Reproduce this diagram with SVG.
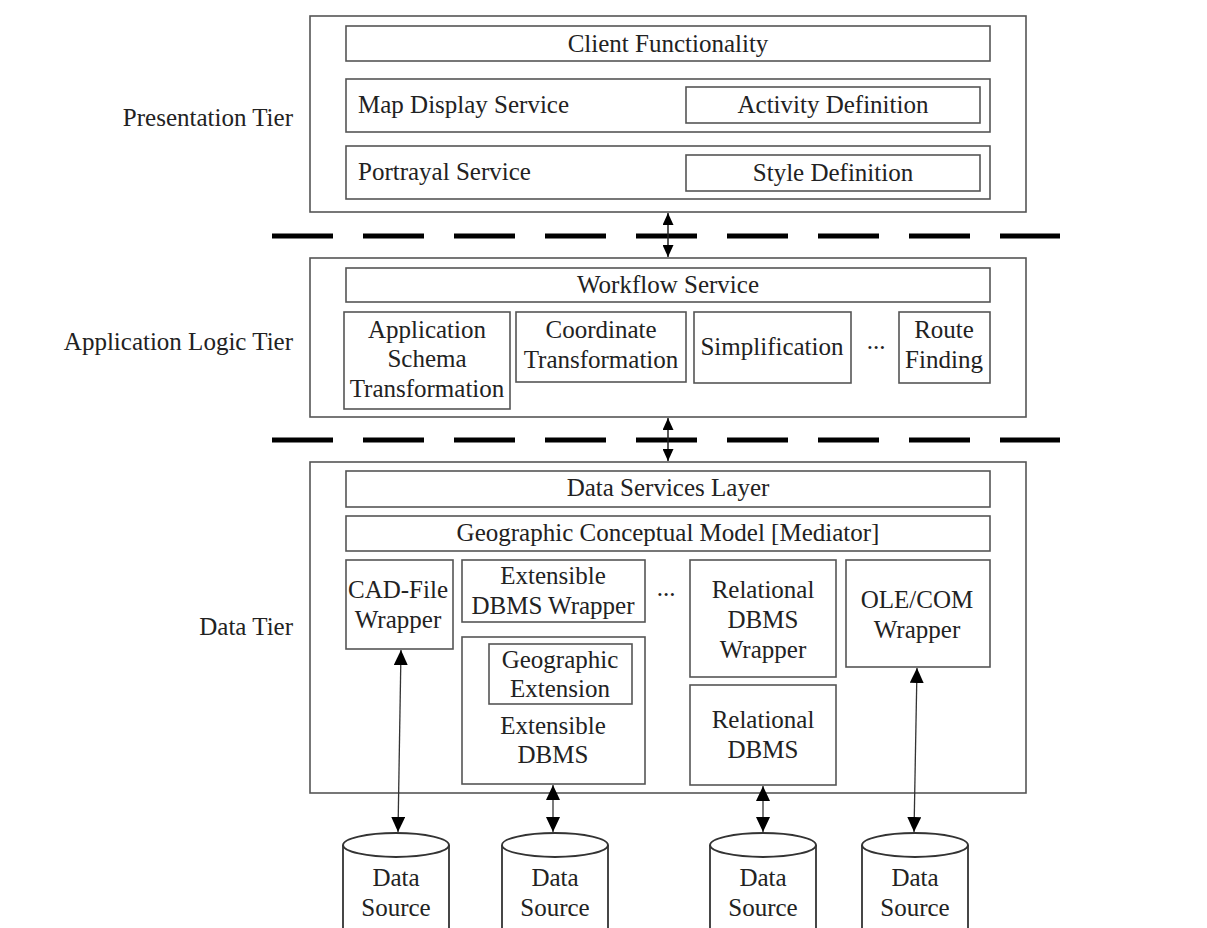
<svg xmlns="http://www.w3.org/2000/svg" width="1207" height="928" viewBox="0 0 1207 928">
<defs>
<style>
.box{fill:#fff;stroke:#555;stroke-width:1.6}
.t{font-family:"Liberation Serif","Times New Roman",serif;font-size:25px;fill:#222;text-anchor:middle}
.tl{font-family:"Liberation Serif","Times New Roman",serif;font-size:25px;fill:#222;text-anchor:start}
.tier{font-family:"Liberation Serif","Times New Roman",serif;font-size:25px;fill:#222;text-anchor:end}
.dash{stroke:#000;stroke-width:5;stroke-dasharray:61 30;fill:none}
.arr{stroke:#333;stroke-width:1.3;fill:none;marker-start:url(#ah);marker-end:url(#ah)}
.arrs{stroke:#222;stroke-width:1.5;fill:none;marker-start:url(#ahs);marker-end:url(#ahs)}
.cyl{fill:#fff;stroke:#333;stroke-width:1.8}
</style>
<marker id="ah" viewBox="0 0 15 14" refX="15" refY="7" markerWidth="15" markerHeight="14" markerUnits="userSpaceOnUse" orient="auto-start-reverse">
<path d="M0,0 L15,7 L0,14 Z" fill="#000"/>
</marker>
<marker id="ahs" viewBox="0 0 12 11" refX="12" refY="5.5" markerWidth="12" markerHeight="11" markerUnits="userSpaceOnUse" orient="auto-start-reverse">
<path d="M0,0 L12,5.5 L0,11 Z" fill="#000"/>
</marker>
</defs>
<rect width="1207" height="928" fill="#fff"/>

<g id="tier-labels">
<text class="tier" x="293" y="126">Presentation Tier</text>
<text class="tier" x="293" y="350">Application Logic Tier</text>
<text class="tier" x="293" y="635">Data Tier</text>
</g>

<g id="separators">
<line class="dash" x1="272" y1="236" x2="1060" y2="236"/>
<line class="dash" x1="272" y1="440" x2="1060" y2="440"/>
</g>

<g id="presentation-tier">
<rect class="box" x="310" y="16" width="716" height="196"/>
<g id="client-functionality"><rect class="box" x="346" y="26" width="644" height="35"/><text class="t" x="668" y="52">Client Functionality</text></g>
<g id="map-display-service"><rect class="box" x="346" y="79" width="644" height="53"/><text class="tl" x="358" y="113">Map Display Service</text>
<g id="activity-definition"><rect class="box" x="686" y="87" width="294" height="36"/><text class="t" x="833" y="113">Activity Definition</text></g></g>
<g id="portrayal-service"><rect class="box" x="346" y="146" width="644" height="53"/><text class="tl" x="358" y="180">Portrayal Service</text>
<g id="style-definition"><rect class="box" x="686" y="155" width="294" height="36"/><text class="t" x="833" y="181">Style Definition</text></g></g>
</g>

<g id="application-tier">
<rect class="box" x="310" y="258" width="716" height="159"/>
<g id="workflow-service"><rect class="box" x="346" y="268" width="644" height="34"/><text class="t" x="668" y="293">Workflow Service</text></g>
<g id="app-schema"><rect class="box" x="344" y="312" width="166" height="97"/>
<text class="t" x="427" y="338">Application</text><text class="t" x="427" y="367">Schema</text><text class="t" x="427" y="397">Transformation</text></g>
<g id="coord-transform"><rect class="box" x="516" y="312" width="170" height="70"/>
<text class="t" x="601" y="338">Coordinate</text><text class="t" x="601" y="368">Transformation</text></g>
<g id="simplification"><rect class="box" x="694" y="312" width="157" height="71"/><text class="t" x="772" y="355">Simplification</text></g>
<text class="t" x="876" y="349">...</text>
<g id="route-finding"><rect class="box" x="899" y="312" width="91" height="71"/>
<text class="t" x="944" y="338">Route</text><text class="t" x="944" y="368">Finding</text></g>
</g>

<g id="data-tier">
<rect class="box" x="310" y="462" width="716" height="331"/>
<g id="data-services-layer"><rect class="box" x="346" y="471" width="644" height="36"/><text class="t" x="668" y="496">Data Services Layer</text></g>
<g id="geo-conceptual-model"><rect class="box" x="346" y="516" width="644" height="35"/><text class="t" x="668" y="541">Geographic Conceptual Model [Mediator]</text></g>
<g id="cad-wrapper"><rect class="box" x="346" y="560" width="107" height="89"/>
<text class="t" x="398" y="598">CAD-File</text><text class="t" x="398" y="628">Wrapper</text></g>
<g id="ext-dbms-wrapper"><rect class="box" x="462" y="560" width="183" height="62"/>
<text class="t" x="553" y="584">Extensible</text><text class="t" x="553" y="614">DBMS Wrapper</text></g>
<text class="t" x="666" y="596">...</text>
<g id="rel-dbms-wrapper"><rect class="box" x="690" y="560" width="146" height="117"/>
<text class="t" x="763" y="598">Relational</text><text class="t" x="763" y="628">DBMS</text><text class="t" x="763" y="658">Wrapper</text></g>
<g id="ole-com-wrapper"><rect class="box" x="846" y="560" width="144" height="107"/>
<text class="t" x="917" y="608">OLE/COM</text><text class="t" x="917" y="638">Wrapper</text></g>
<g id="ext-dbms"><rect class="box" x="462" y="637" width="183" height="147"/>
<g id="geo-extension"><rect class="box" x="489" y="644" width="143" height="60"/>
<text class="t" x="560" y="668">Geographic</text><text class="t" x="560" y="697">Extension</text></g>
<text class="t" x="553" y="734">Extensible</text><text class="t" x="553" y="763">DBMS</text></g>
<g id="rel-dbms"><rect class="box" x="690" y="685" width="146" height="100"/>
<text class="t" x="763" y="728">Relational</text><text class="t" x="763" y="758">DBMS</text></g>
</g>

<g id="data-sources">
<g id="ds1"><path class="cyl" d="M343,845 L343,935 L449,935 L449,845"/><ellipse class="cyl" cx="396" cy="845" rx="53" ry="12"/>
<text class="t" x="396" y="886">Data</text><text class="t" x="396" y="916">Source</text></g>
<g id="ds2"><path class="cyl" d="M502,845 L502,935 L608,935 L608,845"/><ellipse class="cyl" cx="555" cy="845" rx="53" ry="12"/>
<text class="t" x="555" y="886">Data</text><text class="t" x="555" y="916">Source</text></g>
<g id="ds3"><path class="cyl" d="M710,845 L710,935 L816,935 L816,845"/><ellipse class="cyl" cx="763" cy="845" rx="53" ry="12"/>
<text class="t" x="763" y="886">Data</text><text class="t" x="763" y="916">Source</text></g>
<g id="ds4"><path class="cyl" d="M862,845 L862,935 L968,935 L968,845"/><ellipse class="cyl" cx="915" cy="845" rx="53" ry="12"/>
<text class="t" x="915" y="886">Data</text><text class="t" x="915" y="916">Source</text></g>
</g>

<g id="connectors">
<line class="arrs" x1="668" y1="213" x2="668" y2="257"/>
<line class="arrs" x1="668" y1="418" x2="668" y2="461"/>
<line class="arr" x1="401" y1="650" x2="398" y2="832"/>
<line class="arr" x1="553" y1="785" x2="553" y2="832"/>
<line class="arr" x1="763" y1="786" x2="763" y2="832"/>
<line class="arr" x1="917" y1="668" x2="914" y2="832"/>
</g>
</svg>
